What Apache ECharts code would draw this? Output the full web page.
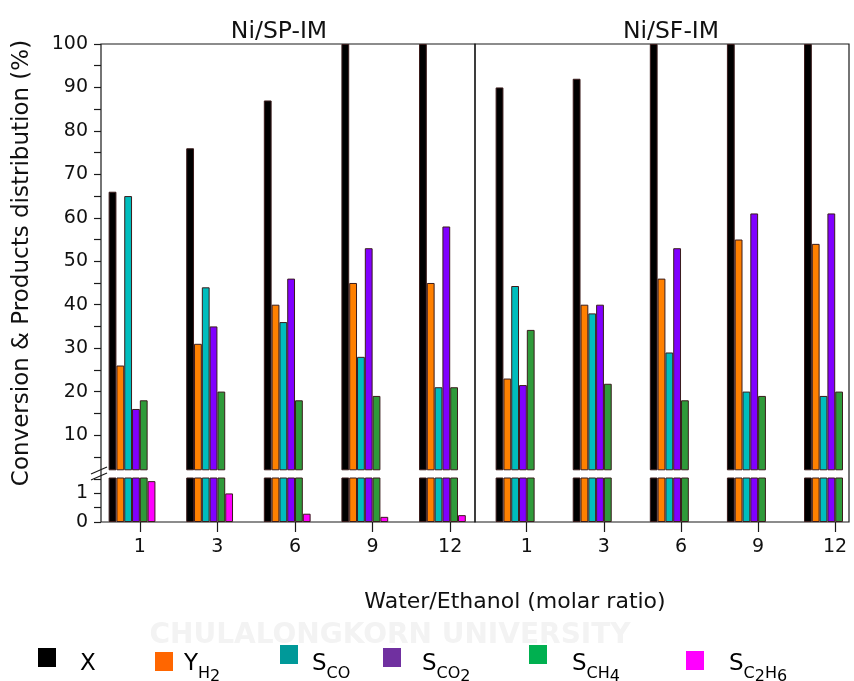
<!DOCTYPE html>
<html><head><meta charset="utf-8">
<script src="https://cdn.jsdelivr.net/npm/echarts@6/dist/echarts.min.js"></script>
<style>html,body{margin:0;padding:0;background:#fff}#c{width:854px;height:681px}</style>
</head><body><div id="c"></div>
<script>
// ---- data ----
const categories = ['1', '3', '6', '9', '12'];
const panelTitles = ['Ni/SP-IM', 'Ni/SF-IM'];
const seriesNames = ['X', 'YH2', 'SCO', 'SCO2', 'SCH4', 'SC2H6'];
// Ni/SP-IM
const sp_X     = [66, 76, 87, 100, 100];
const sp_YH2   = [26, 31, 40, 45, 45];
const sp_SCO   = [65, 44, 36, 28, 21];
const sp_SCO2  = [16, 35, 46, 53, 58];
const sp_SCH4  = [18, 20, 18, 19, 21];
const sp_SC2H6 = [1.43, 1.0, 0.29, 0.18, 0.24];
// Ni/SF-IM
const sf_X     = [90, 92, 100, 100, 100];
const sf_YH2   = [23, 40, 46, 55, 54];
const sf_SCO   = [44.3, 38, 29, 20, 19];
const sf_SCO2  = [21.5, 40, 53, 61, 61];
const sf_SCH4  = [34.2, 21.8, 18, 19, 20];
const sf_SC2H6 = [0, 0, 0, 0, 0];
// axis ticks / labels
const upperTicks  = [5, 10, 15, 20, 25, 30, 35, 40, 45, 50, 55, 60, 65, 70, 75, 80, 85, 90, 95, 100];
const upperLabels = [10, 20, 30, 40, 50, 60, 70, 80, 90, 100];
const lowerTicks  = [0, 0.5, 1, 1.5];
const lowerLabels = [0, 1];

// ---- styles ----
const barColors    = ['#000000', '#FF8000', '#00BDBD', '#8000FF', '#2F9A3A', '#FF00FF'];
const legendColors = ['#000000', '#FF6600', '#009999', '#7030A0', '#00B050', '#FF00FF'];
const FONT = 'DejaVu Sans';
const AX = '#1a1a1a';

const panelData = [
  [sp_X, sp_YH2, sp_SCO, sp_SCO2, sp_SCH4, sp_SC2H6],
  [sf_X, sf_YH2, sf_SCO, sf_SCO2, sf_SCH4, sf_SC2H6]
];
const UPPER_MIN = 2, LOWER_MAX = 1.54;
const xRanges = [[-0.4, 4.42], [-0.571, 4.28]];
const tickShift = 0.1;
const catPos = categories.map((c, i) => i + tickShift);

const panelLeft = [101, 475];
const PW = 374;
const grids = [];
panelLeft.forEach(l => {
  grids.push({left: l, top: 44, width: PW, height: 425.8});
  grids.push({left: l, top: 478, width: PW, height: 44});
});
panelLeft.forEach(l => {
  grids.push({left: l, top: 44, width: PW, height: 478, show: true, borderColor: AX, borderWidth: 1.2, backgroundColor: 'transparent'});
});

const xAxes = [], yAxes = [];
for (let p = 0; p < 2; p++) {
  const [mn, mx] = xRanges[p];
  xAxes.push({type: 'value', gridIndex: p * 2, min: mn, max: mx, show: false});
  xAxes.push({
    type: 'value', gridIndex: p * 2 + 1, min: mn, max: mx, position: 'bottom',
    axisLine: {show: false, onZero: false}, splitLine: {show: false},
    axisTick: {show: true, customValues: catPos, length: 10, lineStyle: {color: AX, width: 1.2}},
    axisLabel: {show: true, customValues: catPos, margin: 16, fontFamily: FONT, fontSize: 19, color: '#111',
      formatter: v => categories[Math.round(v - tickShift)]}
  });
  const showY = p === 0;
  yAxes.push({
    type: 'value', gridIndex: p * 2, min: UPPER_MIN, max: 100, show: showY, position: 'left',
    axisLine: {show: false, onZero: false}, splitLine: {show: false},
    axisTick: {show: true, customValues: upperTicks, length: 7, lineStyle: {color: AX, width: 1.2}},
    axisLabel: {show: true, customValues: upperLabels, margin: 13, fontFamily: FONT, fontSize: 19, color: '#111'}
  });
  yAxes.push({
    type: 'value', gridIndex: p * 2 + 1, min: 0, max: LOWER_MAX, show: showY, position: 'left',
    axisLine: {show: false, onZero: false}, splitLine: {show: false},
    axisTick: {show: true, customValues: lowerTicks, length: 7, lineStyle: {color: AX, width: 1.2}},
    axisLabel: {show: true, customValues: lowerLabels, margin: 13, fontFamily: FONT, fontSize: 19, color: '#111', padding: [0, 0, 8, 0]}
  });
}
// frame axes
for (let p = 0; p < 2; p++) {
  xAxes.push({type: 'value', gridIndex: 4 + p, min: 0, max: 1, show: false});
  yAxes.push({type: 'value', gridIndex: 4 + p, min: 0, max: 1, show: false});
}

const series = [];
for (let p = 0; p < 2; p++) {
  for (let part = 0; part < 2; part++) {
    const ai = p * 2 + part;
    panelData[p].forEach((vals, k) => {
      series.push({
        type: 'bar', name: seriesNames[k], xAxisIndex: ai, yAxisIndex: ai,
        barWidth: 7.8, barGap: '0%', clip: true, silent: true,
        data: vals.map((v, i) => [i, (v === 0 || (part === 0 && v < UPPER_MIN)) ? null : v]),
        itemStyle: {color: barColors[k], borderColor: '#3a1c1c', borderWidth: 1}
      });
    });
  }
}

// legend (drawn as graphics, colours differ from bars)
const legendItems = [
  {text: '{m|X}', x: 38, y: 648, tx: 80},
  {text: '{m|Y}{s|H}{ss|2}', x: 155, y: 652, tx: 184},
  {text: '{m|S}{s|CO}', x: 280, y: 645, tx: 312},
  {text: '{m|S}{s|CO}{ss|2}', x: 383, y: 648, tx: 422},
  {text: '{m|S}{s|CH}{ss|4}', x: 529, y: 645, tx: 572},
  {text: '{m|S}{s|C}{ss|2}{s|H}{ss|6}', x: 686, y: 651, tx: 729}
];
const rich = {
  m: {fontFamily: FONT, fontSize: 23, color: '#222', padding: [0, 0, 9, 0], verticalAlign: 'bottom'},
  s: {fontFamily: FONT, fontSize: 16, color: '#222', padding: [0, 0, 3, 0], verticalAlign: 'bottom'},
  ss: {fontFamily: FONT, fontSize: 16, color: '#222', padding: [0, 0, 0, 0], verticalAlign: 'bottom'}
};
const graphic = [];
legendItems.forEach((it, k) => {
  graphic.push({type: 'rect', shape: {x: it.x, y: it.y, width: 18, height: 19}, style: {fill: legendColors[k]}, silent: true});
  graphic.push({type: 'text', x: it.tx, y: 685, style: {text: it.text, rich: rich, verticalAlign: 'bottom', align: 'left'}, silent: true});
});
// watermark
graphic.push({type: 'text', x: 390, y: 636, z: -10, style: {text: 'CHULALONGKORN UNIVERSITY', fontFamily: FONT, fontSize: 28, fontWeight: 'bold', fill: '#f3f3f3', align: 'center', verticalAlign: 'middle'}, silent: true});
// y axis title
graphic.push({type: 'text', x: 22, y: 263, rotation: Math.PI / 2, style: {text: 'Conversion & Products distribution (%)', fontFamily: FONT, fontSize: 23, fill: '#111', align: 'center', verticalAlign: 'middle'}, silent: true});
// axis break marks
graphic.push({type: 'line', shape: {x1: 91, y1: 474, x2: 107, y2: 467}, style: {stroke: AX, lineWidth: 1.2}, silent: true});
graphic.push({type: 'line', shape: {x1: 91, y1: 480, x2: 107, y2: 473}, style: {stroke: AX, lineWidth: 1.2}, silent: true});

const option = {
  animation: false,
  backgroundColor: '#fff',
  title: [
    {text: panelTitles[0], left: 274, top: 15, textAlign: 'center', textStyle: {fontFamily: FONT, fontSize: 23.5, fontWeight: 'normal', color: '#111'}},
    {text: panelTitles[1], left: 666, top: 15, textAlign: 'center', textStyle: {fontFamily: FONT, fontSize: 23.5, fontWeight: 'normal', color: '#111'}},
    {text: 'Water/Ethanol (molar ratio)', left: 510, top: 586, textAlign: 'center', textStyle: {fontFamily: FONT, fontSize: 22, fontWeight: 'normal', color: '#111'}}
  ],
  grid: grids,
  xAxis: xAxes,
  yAxis: yAxes,
  series: series,
  graphic: graphic
};
const chart = echarts.init(document.getElementById('c'), null, {renderer: 'canvas'});
chart.setOption(option);
</script></body></html>
